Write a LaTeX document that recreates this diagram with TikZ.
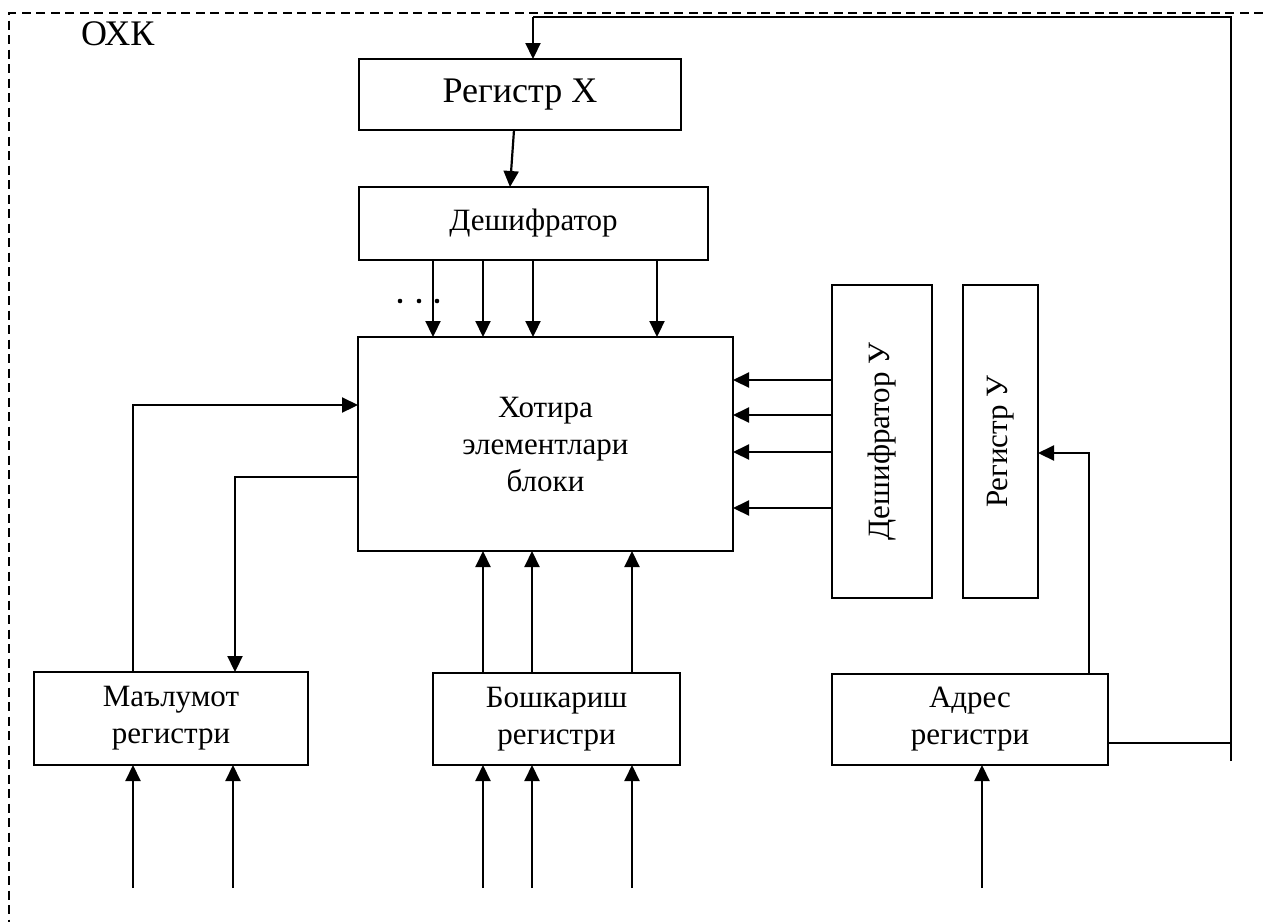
\documentclass[tikz,border=0pt]{standalone}
\usepackage{fontspec}
\setmainfont{Liberation Serif}
\usetikzlibrary{arrows.meta}
\begin{document}
\begin{tikzpicture}[x=1pt,y=-1pt,
  blk/.style={draw, line width=2pt, rectangle, inner sep=0pt, outer sep=0pt,
              align=center, font=\fontsize{31}{37}\selectfont},
  wire/.style={line width=2.2pt},
  arr/.style={wire, -{Triangle[length=16pt,width=15pt]}},
  frame/.style={line width=2pt, dash pattern=on 9pt off 5.5pt}]
\useasboundingbox (0,0) rectangle (1263,922);

% dashed outline of the memory unit and its label
\draw[frame] (1263,13) -- (9,13) -- (9,922);
\node[anchor=base west, inner sep=0pt, font=\fontsize{36}{40}\selectfont] (title) at (81,45) {ОХК};

% blocks
\node[blk, minimum width=322pt, minimum height=71pt, font=\fontsize{36}{40}\selectfont] (rx) at (520,94.5) {Регистр Х};
\node[blk, minimum width=349pt, minimum height=73pt] (dx) at (533.5,223.5) {Дешифратор};
\node[blk, minimum width=375pt, minimum height=214pt] (mem) at (545.5,444) {Хотира\\элементлари\\блоки};
\node[blk, minimum width=100pt, minimum height=313pt] (dy) at (882,441.5) {};
\node[rotate=90, inner sep=0pt, font=\fontsize{31}{37}\selectfont] (dyt) at (dy.center) {Дешифратор У};
\node[blk, minimum width=75pt, minimum height=313pt] (ry) at (1000.5,441.5) {};
\node[rotate=90, inner sep=0pt, font=\fontsize{31}{37}\selectfont] (ryt) at (ry.center) {Регистр У};
\node[blk, minimum width=274pt, minimum height=93pt] (mr) at (171,718.5) {Маълумот\\регистри};
\node[blk, minimum width=247pt, minimum height=92pt] (br) at (556.5,719) {Бошкариш\\регистри};
\node[blk, minimum width=276pt, minimum height=91pt] (ar) at (970,719.5) {Адрес\\регистри};

% feedback from the address register to register X
\coordinate (fbtop) at (1231,17);
\coordinate (fbend) at (1231,761);
\draw[wire] (ar.east |- 0,743) -- (fbend |- 0,743);
\draw[wire] (fbend) -- (fbtop) -- (533,17 |- fbtop);
\draw[arr] (533,17) -- (rx.north -| 533,0);

% register X -> decoder X
\draw[arr] (rx.south -| 514,0) -- (dx.north -| 510,0);

% decoder X -> memory array
\foreach \xx in {433,483,533,657}
  \draw[arr] (dx.south -| \xx,0) -- (mem.north -| \xx,0);
\foreach \xx in {400,419,437}
  \fill (\xx,301) circle (2.3pt);

% decoder Y -> memory array
\foreach \yy in {380,415,452,508}
  \draw[arr] (dy.west |- 0,\yy) -- (mem.east |- 0,\yy);

% address register -> register Y
\draw[arr] (ar.north -| 1089,0) |- (ry.east |- 0,453);

% data register <-> memory array
\draw[arr] (mr.north -| 133,0) |- (mem.west |- 0,405);
\draw[arr] (mem.west |- 0,477) -| (mr.north -| 235,0);

% control register -> memory array
\foreach \xx in {483,532,632}
  \draw[arr] (br.north -| \xx,0) -- (mem.south -| \xx,0);

% external inputs
\foreach \xx in {133,233}
  \draw[arr] (\xx,888) -- (mr.south -| \xx,0);
\foreach \xx in {483,532,632}
  \draw[arr] (\xx,888) -- (br.south -| \xx,0);
\draw[arr] (982,888) -- (ar.south -| 982,0);
\end{tikzpicture}
\end{document}
